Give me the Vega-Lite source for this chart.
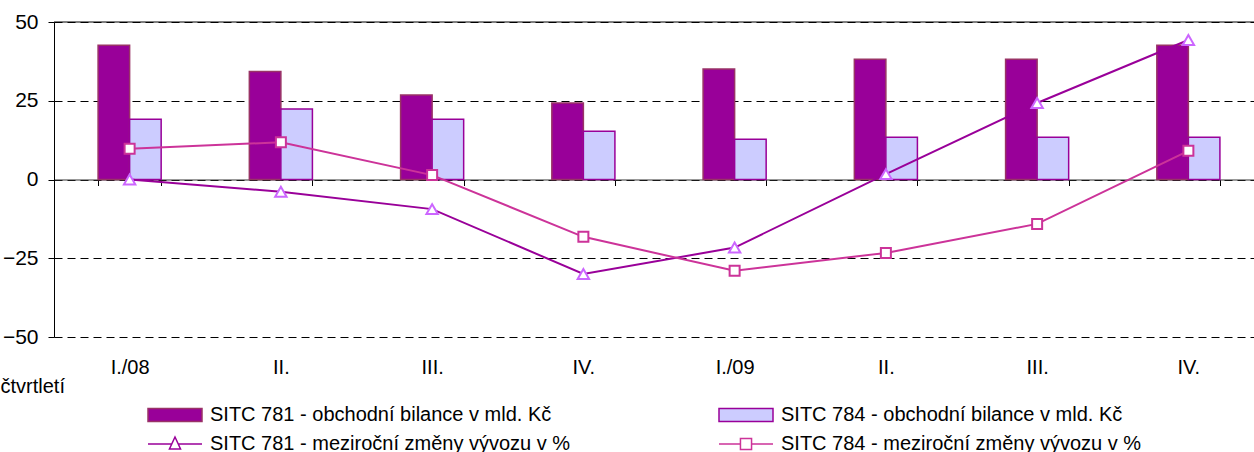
{
  "$schema": "https://vega.github.io/schema/vega-lite/v6.json",
  "width": 1200,
  "height": 315,
  "autosize": {"type": "none"},
  "padding": {"left": 54, "top": 22, "right": 0, "bottom": 115},
  "background": "white",
  "config": {"view": {"stroke": null}, "font": "Liberation Sans"},
  "data": {"values": [
    {"q": "I./08", "k": "bar", "s": "SITC 781 - obchodní bilance v mld. Kč", "v": 42.6},
    {"q": "II./08", "k": "bar", "s": "SITC 781 - obchodní bilance v mld. Kč", "v": 34.3},
    {"q": "III./08", "k": "bar", "s": "SITC 781 - obchodní bilance v mld. Kč", "v": 26.8},
    {"q": "IV./08", "k": "bar", "s": "SITC 781 - obchodní bilance v mld. Kč", "v": 24.3},
    {"q": "I./09", "k": "bar", "s": "SITC 781 - obchodní bilance v mld. Kč", "v": 35.1},
    {"q": "II./09", "k": "bar", "s": "SITC 781 - obchodní bilance v mld. Kč", "v": 38.2},
    {"q": "III./09", "k": "bar", "s": "SITC 781 - obchodní bilance v mld. Kč", "v": 38.2},
    {"q": "IV./09", "k": "bar", "s": "SITC 781 - obchodní bilance v mld. Kč", "v": 42.6},
    {"q": "I./08", "k": "bar", "s": "SITC 784 - obchodní bilance v mld. Kč", "v": 19.1},
    {"q": "II./08", "k": "bar", "s": "SITC 784 - obchodní bilance v mld. Kč", "v": 22.4},
    {"q": "III./08", "k": "bar", "s": "SITC 784 - obchodní bilance v mld. Kč", "v": 19.1},
    {"q": "IV./08", "k": "bar", "s": "SITC 784 - obchodní bilance v mld. Kč", "v": 15.3},
    {"q": "I./09", "k": "bar", "s": "SITC 784 - obchodní bilance v mld. Kč", "v": 12.8},
    {"q": "II./09", "k": "bar", "s": "SITC 784 - obchodní bilance v mld. Kč", "v": 13.4},
    {"q": "III./09", "k": "bar", "s": "SITC 784 - obchodní bilance v mld. Kč", "v": 13.4},
    {"q": "IV./09", "k": "bar", "s": "SITC 784 - obchodní bilance v mld. Kč", "v": 13.4},
    {"q": "I./08", "k": "line", "s": "SITC 781 - meziroční změny vývozu v %", "v": 0},
    {"q": "II./08", "k": "line", "s": "SITC 781 - meziroční změny vývozu v %", "v": -3.9},
    {"q": "III./08", "k": "line", "s": "SITC 781 - meziroční změny vývozu v %", "v": -9.4},
    {"q": "IV./08", "k": "line", "s": "SITC 781 - meziroční změny vývozu v %", "v": -30},
    {"q": "I./09", "k": "line", "s": "SITC 781 - meziroční změny vývozu v %", "v": -21.6},
    {"q": "II./09", "k": "line", "s": "SITC 781 - meziroční změny vývozu v %", "v": 1.7},
    {"q": "III./09", "k": "line", "s": "SITC 781 - meziroční změny vývozu v %", "v": 24.3},
    {"q": "IV./09", "k": "line", "s": "SITC 781 - meziroční změny vývozu v %", "v": 44.3},
    {"q": "I./08", "k": "line", "s": "SITC 784 - meziroční změny vývozu v %", "v": 9.8},
    {"q": "II./08", "k": "line", "s": "SITC 784 - meziroční změny vývozu v %", "v": 11.8},
    {"q": "III./08", "k": "line", "s": "SITC 784 - meziroční změny vývozu v %", "v": 1.4},
    {"q": "IV./08", "k": "line", "s": "SITC 784 - meziroční změny vývozu v %", "v": -18.2},
    {"q": "I./09", "k": "line", "s": "SITC 784 - meziroční změny vývozu v %", "v": -29},
    {"q": "II./09", "k": "line", "s": "SITC 784 - meziroční změny vývozu v %", "v": -23.3},
    {"q": "III./09", "k": "line", "s": "SITC 784 - meziroční změny vývozu v %", "v": -14.1},
    {"q": "IV./09", "k": "line", "s": "SITC 784 - meziroční změny vývozu v %", "v": 9.1}
  ]},
  "layer": [
    {
      "data": {"values": [{"y": 50}]},
      "mark": {"type": "rule", "color": "black", "strokeWidth": 1},
      "encoding": {
        "y": {"field": "y", "type": "quantitative", "scale": {"domain": [-50, 50], "nice": false}}
      }
    },
    {
      "transform": [{"filter": "datum.k == 'bar'"}],
      "mark": {"type": "bar", "strokeWidth": 1.5, "opacity": 1},
      "encoding": {
        "x": {
          "field": "q", "type": "nominal",
          "scale": {"domain": ["I./08", "II./08", "III./08", "IV./08", "I./09", "II./09", "III./09", "IV./09"], "range": [0, 1210], "paddingInner": 0.583, "paddingOuter": 0.2915},
          "axis": {
            "title": "čtvrtletí", "offset": -157.5, "domain": true, "domainColor": "#333333", "domainWidth": 1,
            "ticks": true, "tickBand": "extent", "tickSize": 6, "tickColor": "black",
            "labelPadding": 182, "labelBaseline": "middle", "labelFontSize": 20, "labelColor": "black", "labelAngle": 0,
            "labelExpr": "indexof(datum.label, 'I./0') == 0 ? datum.label : split(datum.label, '/')[0]",
            "titleX": -54, "titleY": 207, "titleAlign": "left", "titleBaseline": "middle", "titleFontSize": 20,
            "titleFontWeight": "normal", "titleColor": "black", "grid": false
          }
        },
        "xOffset": {"field": "s", "type": "nominal", "scale": {"domain": ["SITC 781 - obchodní bilance v mld. Kč", "SITC 784 - obchodní bilance v mld. Kč"], "paddingInner": 0, "paddingOuter": 0}},
        "y": {
          "field": "v", "type": "quantitative",
          "scale": {"domain": [-50, 50], "nice": false},
          "axis": {"values": [-50, -25, 0, 25, 50], "title": null, "grid": true, "gridDash": [8, 5], "gridColor": "black", "gridWidth": 1, "gridOpacity": 1, "domainColor": "black", "tickColor": "black", "tickSize": 6, "labelFontSize": 21, "labelColor": "black", "labelPadding": 10}
        },
        "fill": {
          "field": "s", "type": "nominal",
          "scale": {"domain": ["SITC 781 - obchodní bilance v mld. Kč", "SITC 784 - obchodní bilance v mld. Kč", "SITC 781 - meziroční změny vývozu v %", "SITC 784 - meziroční změny vývozu v %"], "range": ["#990099", "#CCCCFF", "white", "white"]},
          "legend": {
            "title": null, "orient": "none", "legendX": 93, "legendY": 377, "columns": 2, "direction": "horizontal",
            "columnPadding": 145, "rowPadding": 3, "symbolSize": 900, "symbolStrokeWidth": 1.5, "symbolOpacity": 1,
            "labelFontSize": 20, "labelColor": "black", "labelOffset": 31, "labelLimit": 600, "padding": 0
          }
        },
        "stroke": {
          "field": "s", "type": "nominal",
          "scale": {"domain": ["SITC 781 - obchodní bilance v mld. Kč", "SITC 784 - obchodní bilance v mld. Kč", "SITC 781 - meziroční změny vývozu v %", "SITC 784 - meziroční změny vývozu v %"], "range": ["#993366", "#990099", "#990099", "#CC3399"]},
          "legend": {
            "title": null, "orient": "none", "legendX": 93, "legendY": 377, "columns": 2, "direction": "horizontal",
            "columnPadding": 145, "rowPadding": 3, "symbolSize": 900, "symbolStrokeWidth": 1.5, "symbolOpacity": 1,
            "labelFontSize": 20, "labelColor": "black", "labelOffset": 31, "labelLimit": 600, "padding": 0
          }
        }
      }
    },
    {
      "transform": [{"filter": "datum.k == 'line'"}],
      "mark": {"type": "line", "strokeWidth": 2},
      "encoding": {
        "x": {"field": "q", "type": "nominal"},
        "y": {"field": "v", "type": "quantitative"},
        "stroke": {"field": "s", "type": "nominal"}
      }
    },
    {
      "mark": {"type": "point", "opacity": 0},
      "encoding": {
        "x": {"field": "q", "type": "nominal"},
        "y": {"field": "v", "type": "quantitative"},
        "shape": {
          "field": "s", "type": "nominal",
          "scale": {"domain": ["SITC 781 - obchodní bilance v mld. Kč", "SITC 784 - obchodní bilance v mld. Kč", "SITC 781 - meziroční změny vývozu v %", "SITC 784 - meziroční změny vývozu v %"], "range": ["M-1,-0.43H2.6V0.43H-1Z", "M-1,-0.43H2.6V0.43H-1Z", "M-1,0H0.6M1,0H2.6M0.8,-0.47L1.17,0.33L0.43,0.33Z", "M-1,0H0.43M1.17,0H2.6M0.43,-0.37H1.17V0.37H0.43Z"]},
          "legend": {
            "title": null, "orient": "none", "legendX": 93, "legendY": 377, "columns": 2, "direction": "horizontal",
            "columnPadding": 145, "rowPadding": 3, "symbolSize": 900, "symbolStrokeWidth": 1.5, "symbolOpacity": 1,
            "labelFontSize": 20, "labelColor": "black", "labelOffset": 31, "labelLimit": 600, "padding": 0
          }
        }
      }
    },
    {
      "transform": [{"filter": "datum.k == 'line' && indexof(datum.s, '781') >= 0"}],
      "mark": {"type": "point", "shape": "triangle-up", "filled": true, "fill": "white", "stroke": "#CC66FF", "size": 130, "strokeWidth": 2, "opacity": 1},
      "encoding": {
        "x": {"field": "q", "type": "nominal"},
        "y": {"field": "v", "type": "quantitative"}
      }
    },
    {
      "transform": [{"filter": "datum.k == 'line' && indexof(datum.s, '784') >= 0"}],
      "mark": {"type": "point", "shape": "square", "filled": true, "fill": "white", "stroke": "#CC3399", "size": 100, "strokeWidth": 2, "opacity": 1},
      "encoding": {
        "x": {"field": "q", "type": "nominal"},
        "y": {"field": "v", "type": "quantitative"}
      }
    }
  ]
}
